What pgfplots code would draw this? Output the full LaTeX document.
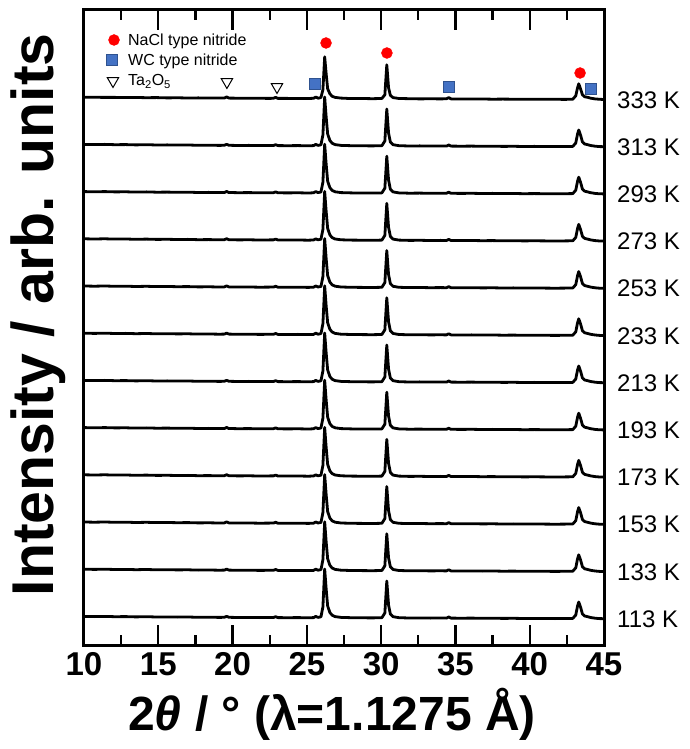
\documentclass[border=0pt]{standalone}
\usepackage{pgfplots}
\pgfplotsset{compat=1.18}
\usepackage{pgfplotstable}
\usepackage{fontspec}
\setmainfont{Liberation Sans}
\definecolor{bluefill}{RGB}{68,114,196}
\definecolor{bluedark}{RGB}{47,82,143}

% x = 2theta (deg); y = intensity above baseline (lower 11 patterns); ytop = 333 K pattern
\pgfplotstableread{
x      y     ytop
10.0   2.6   2.6
10.7   2.4   2.5
11.4   2.6   2.4
12.1   2.3   2.4
12.8   2.4   2.2
13.5   2.1   2.3
14.2   2.3   2.1
14.9   2.0   2.2
15.6   2.1   1.9
16.3   1.9   2.0
17.0   2.0   1.8
17.7   1.7   1.9
18.4   1.8   1.7
19.1   1.6   1.7
19.45  1.7   1.8
19.6   2.7   2.9
19.75  1.7   1.7
20.4   1.5   1.6
21.1   1.6   1.5
21.8   1.4   1.5
22.5   1.5   1.4
22.75  1.5   1.5
22.9   2.3   2.5
23.05  1.4   1.4
23.7   1.3   1.4
24.4   1.4   1.2
25.1   1.2   1.3
25.45  1.4   1.5
25.6   2.6   2.8
25.75  1.6   1.6
25.95  2.2   2.2
26.08  12    10
26.2   50    43
26.3   30    26
26.4   13    11
26.55  6.5   6
26.7   3.8   3.5
26.9   2.4   2.4
27.3   1.6   1.7
28.0   1.3   1.2
28.7   1.2   1.3
29.4   1.1   1.1
30.05  1.3   1.3
30.25  6     5
30.38  38    35
30.5   14    12
30.62  5     4.5
30.8   2.3   2.2
31.2   1.3   1.3
31.9   1.0   1.1
32.6   1.1   0.9
33.3   0.9   1.0
34.0   1.0   0.9
34.4   0.9   1.0
34.55  2.0   2.2
34.7   0.9   0.9
35.4   0.8   0.8
36.1   0.9   0.8
36.8   0.7   0.8
37.5   0.8   0.6
38.2   0.6   0.7
38.9   0.7   0.6
39.6   0.5   0.6
40.3   0.6   0.5
41.0   0.5   0.5
41.7   0.4   0.5
42.4   0.5   0.4
42.9   0.6   0.6
43.1   4     4
43.22  13    12
43.3   17    16
43.42  12    11
43.55  5     5
43.7   3.0   3.0
43.9   2.3   2.5
44.1   1.5   1.6
44.4   0.8   0.9
44.7   0.4   0.5
45.0   0.3   0.3
}\xrdpat

\begin{document}
\begin{tikzpicture}
\useasboundingbox (-84pt,-104pt) rectangle (605pt,645pt);
\begin{axis}[
  scale only axis,
  width=520pt, height=635pt,
  at={(0pt,0pt)}, anchor=south west,
  xmin=10, xmax=45, ymin=0, ymax=635,
  axis line style={line width=3pt},
  xtick={10,15,...,45},
  minor xtick={12.5,17.5,...,42.5},
  ytick=\empty,
  tick align=inside,
  xtick pos=both,
  major tick length=20pt,
  minor tick length=10pt,
  every tick/.style={black, line width=2.2pt},
  /pgf/number format/assume math mode=true,
  xticklabel style={font=\fontsize{33}{36}\selectfont\bfseries, anchor=base, yshift=-30pt},
  xticklabel pos=lower,
  xlabel={2\textit{θ} / ° (λ=1.1275 Å)},
  xlabel style={font=\fontsize{48}{50}\selectfont\bfseries, at={(axis description cs:0.477,0)}, anchor=base, yshift=-85pt},
  ylabel={Intensity / arb. units},
  ylabel style={font=\fontsize{59}{62}\selectfont\bfseries, at={(axis description cs:-0.0885,0.52)}, anchor=center, rotate=0},
  clip mode=individual,
]
\pgfplotsinvokeforeach{0,...,10}{
  \addplot[black, line width=2.8pt, line join=round]
    table[x=x, y expr=\thisrow{y}+26+47.2*#1] {\xrdpat};
}
\addplot[black, line width=2.8pt, line join=round]
  table[x=x, y expr=\thisrow{ytop}+545.2] {\xrdpat};

% phase markers (first point of each series = legend key)
\addplot[only marks, mark=*, mark size=5.5pt, red, draw=none]
  coordinates {(12.02,605) (26.29,602) (30.39,592) (43.39,572)};
\addplot[only marks, mark=square*, mark size=5.5pt, draw=bluedark, fill=bluefill, line width=0.8pt]
  coordinates {(11.88,585) (25.55,561) (34.57,558) (44.13,556)};
\addplot[only marks, mark=triangle, mark size=6.5pt, black, line width=1pt, fill=white, every mark/.append style={rotate=180}]
  coordinates {(11.95,564) (19.62,563) (22.99,558)};

\begin{scope}[every node/.style={anchor=base west, inner sep=0pt, font=\fontsize{16}{18}\selectfont}]
\node at (axis cs:12.96,599) {NaCl type nitride};
\node at (axis cs:12.96,579) {WC type nitride};
\node at (axis cs:12.96,559) {Ta\textsubscript{2}O\textsubscript{5}};
\end{scope}

\begin{scope}[every node/.style={anchor=west, inner sep=0pt, font=\fontsize{24}{26}\selectfont, xshift=13pt}]
\node at (axis cs:45,26.0) {113 K};
\node at (axis cs:45,73.2) {133 K};
\node at (axis cs:45,120.4) {153 K};
\node at (axis cs:45,167.6) {173 K};
\node at (axis cs:45,214.8) {193 K};
\node at (axis cs:45,262.0) {213 K};
\node at (axis cs:45,309.2) {233 K};
\node at (axis cs:45,356.4) {253 K};
\node at (axis cs:45,403.6) {273 K};
\node at (axis cs:45,450.8) {293 K};
\node at (axis cs:45,498.0) {313 K};
\node at (axis cs:45,545.2) {333 K};
\end{scope}
\end{axis}
\end{tikzpicture}
\end{document}
